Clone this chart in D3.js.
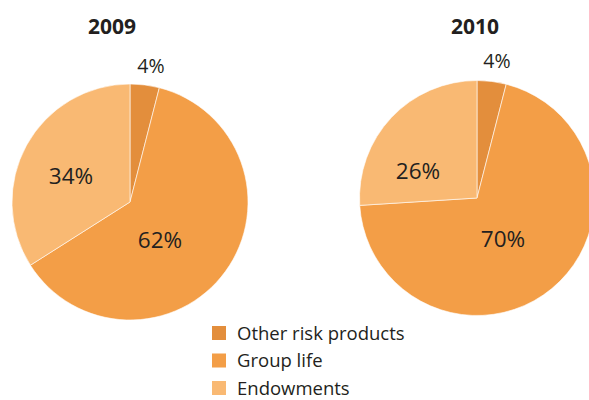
<!DOCTYPE html>
<html><head><meta charset="utf-8">
<script src="https://cdn.jsdelivr.net/npm/d3@7"></script>
<style>
html,body{margin:0;padding:0;background:#fff;}
svg{display:block;font-family:"Open Sans",sans-serif;}
</style></head>
<body>
<svg id="chart" width="589" height="400"></svg>
<script>
const categories = ["Other risk products", "Group life", "Endowments"];
const years = ["2009", "2010"];
const values2009 = [4, 62, 34];
const values2010 = [4, 70, 26];
const colors = ["#E38E3C", "#F39E47", "#F9B973"];

const svg = d3.select("#chart");
const color = d3.scaleOrdinal().domain(categories).range(colors);

const pies = [
  {year: years[0], values: values2009, cx: 130, cy: 202, r: 118, titleX: 112,
   labelPos: [[151, 73], [160, 248], [71, 184]], titleY: 34},
  {year: years[1], values: values2010, cx: 477, cy: 198, r: 117.5, titleX: 475,
   labelPos: [[497, 68], [503, 247], [418, 179]], titleY: 34}
];

const pie = d3.pie().sort(null).value(d => d.v);

pies.forEach(p => {
  const data = categories.map((c, i) => ({c, v: p.values[i]}));
  const arcs = pie(data);
  const arc = d3.arc().innerRadius(0).outerRadius(p.r);
  const g = svg.append("g").attr("transform", `translate(${p.cx},${p.cy})`);
  g.selectAll("path").data(arcs).enter().append("path")
    .attr("d", arc)
    .attr("fill", d => color(d.data.c))
    .attr("stroke", "#fff").attr("stroke-width", 0.6);
  svg.append("text").attr("x", p.titleX).attr("y", p.titleY)
    .attr("text-anchor", "middle").attr("font-weight", "bold")
    .attr("font-size", 21).attr("fill", "#231F20").text(p.year);
  arcs.forEach((a, i) => {
    svg.append("text").attr("x", p.labelPos[i][0]).attr("y", p.labelPos[i][1])
      .attr("text-anchor", "middle").attr("font-size", i === 0 ? 19.5 : 22.5)
      .attr("fill", "#231F20").text(a.data.v + "%");
  });
});

const legend = svg.append("g").attr("transform", "translate(212,326)");
categories.forEach((c, i) => {
  const row = legend.append("g").attr("transform", `translate(0,${i * 27.5})`);
  row.append("rect").attr("width", 14).attr("height", 14).attr("fill", color(c));
  row.append("text").attr("x", 25).attr("y", 13.5).attr("font-size", 18.5)
    .attr("fill", "#231F20").text(c);
});
</script>
</body></html>
